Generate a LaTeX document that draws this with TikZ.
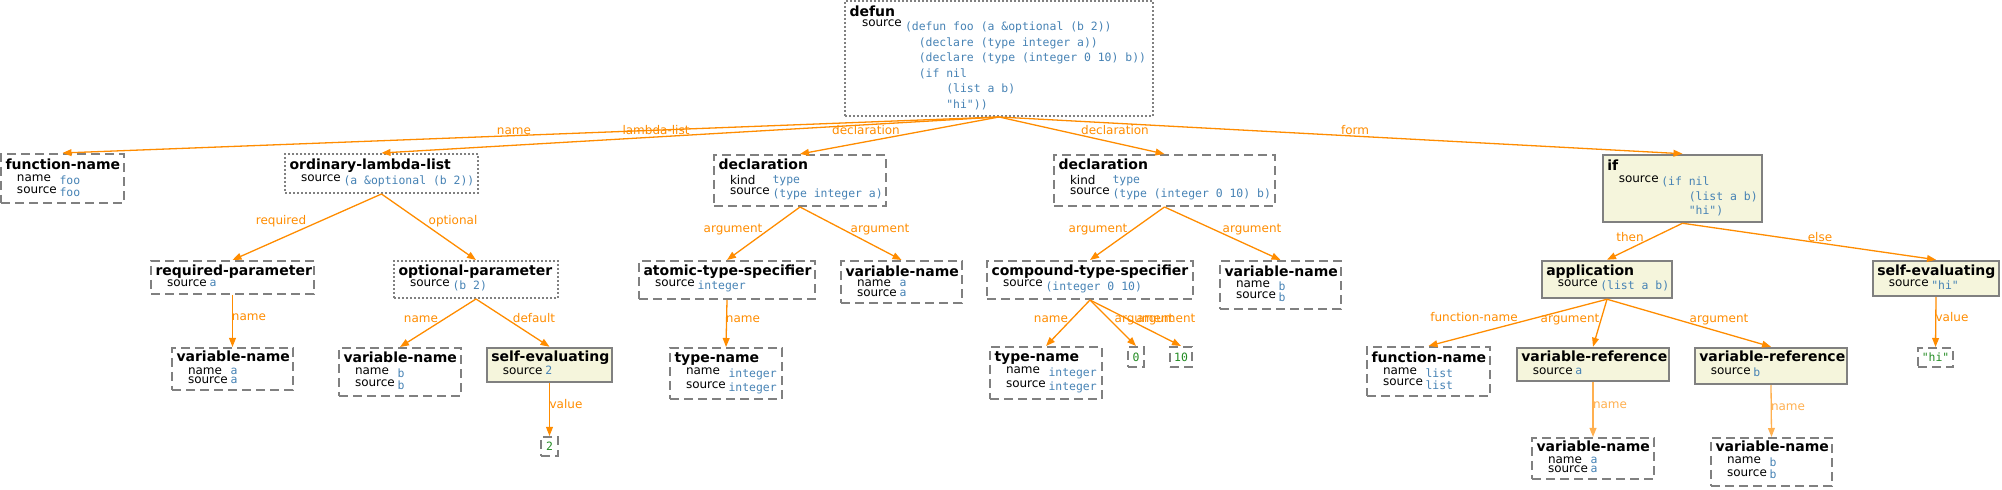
\documentclass[tikz,border=0pt]{standalone}
\usepackage{fontspec}
\setmainfont{DejaVu Sans}
\newfontfamily\monof{DejaVu Sans Mono}
\usetikzlibrary{fit,calc,arrows.meta}
\definecolor{edgeor}{HTML}{FF8C00}
\definecolor{edgelt}{HTML}{FFB050}
\definecolor{valblue}{HTML}{4682B4}
\definecolor{litgreen}{HTML}{228B22}
\definecolor{boxgray}{HTML}{808080}
\definecolor{beigef}{HTML}{F5F5DC}
\tikzset{
 dashbox/.style={draw=boxgray, line width=1pt, dash pattern=on 4.5pt off 2.5pt},
 dotbox/.style={draw=boxgray, line width=1pt, dash pattern=on 1pt off 1pt},
 solidbox/.style={draw=boxgray, line width=1.25pt, fill=beigef},
 ttl/.style={inner sep=0pt, outer sep=0pt, anchor=base west, font=\fontsize{7}{8}\selectfont\bfseries},
 keyt/.style={inner sep=0pt, outer sep=0pt, anchor=base west, font=\fontsize{6}{7}\selectfont},
 valt/.style={inner sep=0pt, outer sep=0pt, anchor=base west, text=valblue, font=\fontsize{5.72}{7}\selectfont\monof},
 litt/.style={inner sep=0pt, outer sep=0pt, text=litgreen, font=\fontsize{5.72}{7}\selectfont\monof},
 conn/.style={draw=edgeor, line width=0.65pt, -{Triangle[length=4.5pt,width=3.4pt]}},
 connlt/.style={conn, draw=edgelt},
 lbl/.style={inner sep=0pt, anchor=base, text=edgeor, font=\fontsize{6}{7}\selectfont},
 lbllt/.style={lbl, text=edgelt},
}
\newcommand\bx[6]{\node[#2, fit={(#3,#4) (#5,#6)}, inner sep=0pt] (#1) {};}
\newcommand\ttlof[3]{\node[ttl] (#1-t) at ($(#1.north west)+(5.5,#2)$) {#3};}
\newcommand\kv[6]{\node[keyt] (#1-#2k) at ($(#1.north west)+(17,#3)$) {#5};
  \node[valt] (#1-#2v) at ($(#1.north west)+(59.5,#4)$) {#6};}
\begin{document}
\begin{tikzpicture}[x=0.5pt,y=-0.5pt]
\useasboundingbox (0,0) rectangle (2002,490);
% ---- level 0
\bx{defun}{dotbox}{845}{1}{1153}{116}
\ttlof{defun}{17}{defun}
\node[keyt] (defun-sk) at ($(defun.north west)+(18,27)$) {source};
\node[valt] (defun-sv) at ($(defun.north west)+(61,31)$) {\fontsize{5.72}{7.75}\selectfont\begin{tabular}[t]{@{}l@{}}(defun foo (a \&optional (b 2))\\
\hspace*{1.204em}(declare (type integer a))\\
\hspace*{1.204em}(declare (type (integer 0 10) b))\\
\hspace*{1.204em}(if nil\\
\hspace*{3.612em}(list a b)\\
\hspace*{3.612em}"hi"))\end{tabular}};
% ---- level 1
\bx{fn1}{dashbox}{1}{154}{124}{203}
\ttlof{fn1}{17}{function-name}
\kv{fn1}{a}{29}{32}{name}{foo}
\kv{fn1}{b}{41}{44}{source}{foo}
\bx{oll}{dotbox}{285}{154}{478}{193}
\ttlof{oll}{17}{ordinary-lambda-list}
\kv{oll}{a}{29}{32}{source}{(a \&optional (b 2))}
\bx{decl1}{dashbox}{714}{155}{886}{206}
\ttlof{decl1}{16}{declaration}
\kv{decl1}{a}{31}{30}{kind}{type}
\kv{decl1}{b}{41}{44}{source}{(type integer a)}
\bx{decl2}{dashbox}{1054}{155}{1275}{206}
\ttlof{decl2}{16}{declaration}
\kv{decl2}{a}{31}{30}{kind}{type}
\kv{decl2}{b}{41}{44}{source}{(type (integer 0 10) b)}
\bx{if}{solidbox}{1603}{155}{1762}{222}
\ttlof{if}{17}{if}
\node[keyt] (if-sk) at ($(if.north west)+(17,29)$) {source};
\node[valt] (if-sv) at ($(if.north west)+(59.5,32)$) {\fontsize{5.72}{7.25}\selectfont\begin{tabular}[t]{@{}l@{}}(if nil\\
\hspace*{2.408em}(list a b)\\
\hspace*{2.408em}"hi")\end{tabular}};
% ---- level 2
\bx{req}{dashbox}{151}{261}{314}{294}
\ttlof{req}{16}{required-parameter}
\kv{req}{a}{27}{27}{source}{a}
\bx{opt}{dotbox}{394}{261}{558}{298}
\ttlof{opt}{16}{optional-parameter}
\kv{opt}{a}{27}{30}{source}{(b 2)}
\bx{ats}{dashbox}{639}{261}{815}{299}
\ttlof{ats}{16}{atomic-type-specifier}
\kv{ats}{a}{27}{30}{source}{integer}
\bx{vn3}{dashbox}{841}{261}{962}{303}
\ttlof{vn3}{17}{variable-name}
\kv{vn3}{a}{27}{27}{name}{a}
\kv{vn3}{b}{37}{37}{source}{a}
\bx{cts}{dashbox}{987}{261}{1193}{299}
\ttlof{cts}{16}{compound-type-specifier}
\kv{cts}{a}{27}{31}{source}{(integer 0 10)}
\bx{vn4}{dashbox}{1220}{261}{1341}{309}
\ttlof{vn4}{17}{variable-name}
\kv{vn4}{a}{28}{31}{name}{b}
\kv{vn4}{b}{39}{42}{source}{b}
\bx{app}{solidbox}{1542}{261}{1672}{298}
\ttlof{app}{16}{application}
\kv{app}{a}{27}{30}{source}{(list a b)}
\bx{sehi}{solidbox}{1873}{261}{1999}{296}
\ttlof{sehi}{16}{self-evaluating}
\kv{sehi}{a}{27}{30}{source}{"hi"}
% ---- level 3
\bx{vn1}{dashbox}{172}{348}{293}{390}
\ttlof{vn1}{15}{variable-name}
\kv{vn1}{a}{28}{28}{name}{a}
\kv{vn1}{b}{37}{37}{source}{a}
\bx{vn2}{dashbox}{339}{348}{461}{396}
\ttlof{vn2}{16}{variable-name}
\kv{vn2}{a}{28}{31}{name}{b}
\kv{vn2}{b}{40}{43}{source}{b}
\bx{se2}{solidbox}{487}{348}{612}{382}
\ttlof{se2}{15}{self-evaluating}
\kv{se2}{a}{28}{28}{source}{2}
\bx{tn1}{dashbox}{670}{348}{782}{399}
\ttlof{tn1}{16}{type-name}
\kv{tn1}{a}{28}{31}{name}{integer}
\kv{tn1}{b}{42}{45}{source}{integer}
\bx{tn2}{dashbox}{990}{347}{1102}{399}
\ttlof{tn2}{16}{type-name}
\kv{tn2}{a}{28}{31}{name}{integer}
\kv{tn2}{b}{42}{45}{source}{integer}
\bx{lit0}{dashbox}{1128}{347}{1144}{367}
\node[litt] (lit0-t) at (lit0.center) {0};
\bx{lit10}{dashbox}{1170}{347}{1192}{367}
\node[litt] (lit10-t) at (lit10.center) {10};
\bx{fn2}{dashbox}{1367}{347}{1490}{396}
\ttlof{fn2}{17}{function-name}
\kv{fn2}{a}{29}{32}{name}{list}
\kv{fn2}{b}{40}{44}{source}{list}
\bx{vr1}{solidbox}{1517}{348}{1669}{381}
\ttlof{vr1}{15}{variable-reference}
\kv{vr1}{a}{28}{28}{source}{a}
\bx{vr2}{solidbox}{1695}{348}{1847}{384}
\ttlof{vr2}{15}{variable-reference}
\kv{vr2}{a}{28}{30}{source}{b}
\bx{lithi}{dashbox}{1918}{348}{1953}{367}
\node[litt] (lithi-t) at (lithi.center) {"hi"};
% ---- level 4
\bx{lit2}{dashbox}{541}{437}{558}{456}
\node[litt] (lit2-t) at (lit2.center) {2};
\bx{vn5}{dashbox}{1532}{438}{1654}{479}
\ttlof{vn5}{15}{variable-name}
\kv{vn5}{a}{27}{27}{name}{a}
\kv{vn5}{b}{36}{36}{source}{a}
\bx{vn6}{dashbox}{1711}{438}{1832}{486}
\ttlof{vn6}{15}{variable-name}
\kv{vn6}{a}{27}{30}{name}{b}
\kv{vn6}{b}{40}{42}{source}{b}
% ---- connectors
\draw[conn] (defun.south) -- (fn1.north);
\draw[conn] (defun.south) -- (oll.north);
\draw[conn] (defun.south) -- (decl1.north);
\draw[conn] (defun.south) -- (decl2.north);
\draw[conn] (defun.south) -- (if.north);
\draw[conn] (oll.south) -- (req.north);
\draw[conn] (oll.south) -- (opt.north);
\draw[conn] (req.south) -- (vn1.north);
\draw[conn] (opt.south) -- (vn2.north);
\draw[conn] (opt.south) -- (se2.north);
\draw[conn] (se2.south) -- (lit2.north);
\draw[conn] (decl1.south) -- (ats.north);
\draw[conn] (decl1.south) -- (vn3.north);
\draw[conn] (ats.south) -- (tn1.north);
\draw[conn] (decl2.south) -- (cts.north);
\draw[conn] (decl2.south) -- (vn4.north);
\draw[conn] (cts.south) -- (tn2.north);
\draw[conn] (cts.south) -- (lit0.north);
\draw[conn] (cts.south) -- (lit10.north);
\draw[conn] (if.south) -- (app.north);
\draw[conn] (if.south) -- (sehi.north);
\draw[conn] (app.south) -- (fn2.north);
\draw[conn] (app.south) -- (vr1.north);
\draw[conn] (app.south) -- (vr2.north);
\draw[connlt] (vr1.south) -- (vn5.north);
\draw[connlt] (vr2.south) -- (vn6.north);
\draw[conn] (sehi.south) -- (lithi.north);
% ---- labels
\node[lbl] (l01) at (514,135) {name};
\node[lbl] (l02) at (656,135) {lambda-list};
\node[lbl] (l03) at (866,135) {declaration};
\node[lbl] (l04) at (1115,135) {declaration};
\node[lbl] (l05) at (1355,135) {form};
\node[lbl] (l06) at (281,225) {required};
\node[lbl] (l07) at (453,225) {optional};
\node[lbl] (l08) at (733,233) {argument};
\node[lbl] (l09) at (880,233) {argument};
\node[lbl] (l10) at (1098,233) {argument};
\node[lbl] (l11) at (1252,233) {argument};
\node[lbl] (l12) at (1630,242) {then};
\node[lbl] (l13) at (1820,242) {else};
\node[lbl] (l14) at (249,321) {name};
\node[lbl] (l15) at (421,323) {name};
\node[lbl] (l16) at (534,323) {default};
\node[lbl] (l17) at (743,323) {name};
\node[lbl] (l18) at (1051,323) {name};
\node[lbl] (l19) at (1144,323) {argument};
\node[lbl] (l20) at (1166,323) {argument};
\node[lbl] (l21) at (1474,322) {function-name};
\node[lbl] (l22) at (1570,323) {argument};
\node[lbl] (l23) at (1719,323) {argument};
\node[lbl] (l24) at (1952,322) {value};
\node[lbl] (l25) at (566,409) {value};
\node[lbllt] (l26) at (1610,409) {name};
\node[lbllt] (l27) at (1788,411) {name};
\end{tikzpicture}
\end{document}
